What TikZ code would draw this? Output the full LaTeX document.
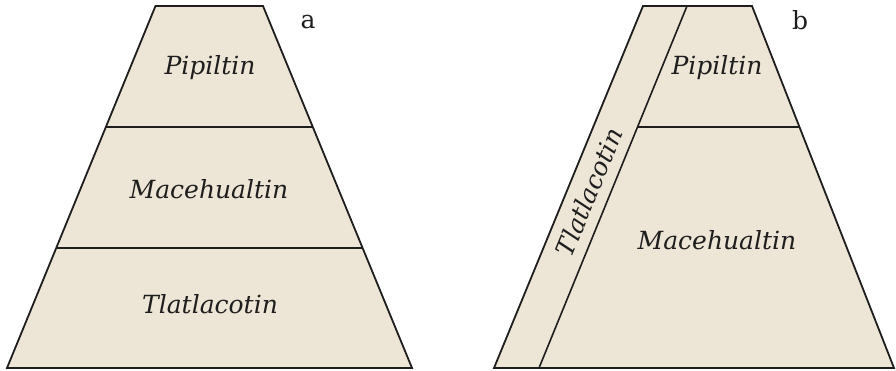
\documentclass[tikz,border=0pt]{standalone}
\usepackage{fontspec}
\setmainfont{DejaVu Serif}
\usetikzlibrary{calc}
\definecolor{beige}{RGB}{237,229,213}
\definecolor{ink}{RGB}{30,30,30}
\tikzset{
  tier/.style={fill=beige,draw=ink,line width=1.8pt,line join=miter},
  divider/.style={draw=ink,line width=1.6pt},
  lbl/.style={font=\fontsize{25}{29}\selectfont\itshape,text=ink,inner sep=0pt},
  tag/.style={font=\fontsize{25}{29}\selectfont,text=ink,inner sep=0pt}
}
\begin{document}
\begin{tikzpicture}[x=1pt,y=-1pt]
\useasboundingbox (0,0) rectangle (896,371);
% --- pyramid a
\coordinate (aTL) at (155.5,6);
\coordinate (aTR) at (263,6);
\coordinate (aBR) at (412,368);
\coordinate (aBL) at (7,368);
\draw[tier] (aTL) -- (aTR) -- (aBR) -- (aBL) -- cycle;
\coordinate (a1L) at ($(aTL)!0.3343!(aBL)$);
\coordinate (a1R) at ($(aTR)!0.3343!(aBR)$);
\coordinate (a2L) at ($(aTL)!0.6685!(aBL)$);
\coordinate (a2R) at ($(aTR)!0.6685!(aBR)$);
\draw[divider] (a1L) -- (a1R);
\draw[divider] (a2L) -- (a2R);
\node[lbl] (aP) at (210,68) {Pipiltin};
\node[lbl] (aM) at (209,189) {Macehualtin};
\node[lbl] (aT) at (210,304) {Tlatlacotin};
\node[tag] (atag) at (308,22) {a};
% --- pyramid b
\coordinate (bTL) at (643,6);
\coordinate (bTR) at (752,6);
\coordinate (bBR) at (894,368);
\coordinate (bBL) at (494,368);
\coordinate (bDT) at (687,6);
\coordinate (bDB) at (539,368);
\draw[tier] (bTL) -- (bTR) -- (bBR) -- (bBL) -- cycle;
\coordinate (b1L) at ($(bDT)!0.3343!(bDB)$);
\coordinate (b1R) at ($(bTR)!0.3343!(bBR)$);
\draw[divider] (bDT) -- (bDB);
\draw[divider] (b1L) -- (b1R);
\node[lbl] (bP) at (717,68) {Pipiltin};
\node[lbl] (bM) at (717,240) {Macehualtin};
\node[lbl,rotate=67.7] (bT) at (589,192) {Tlatlacotin};
\node[tag] (btag) at (800,20) {b};
\end{tikzpicture}
\end{document}
